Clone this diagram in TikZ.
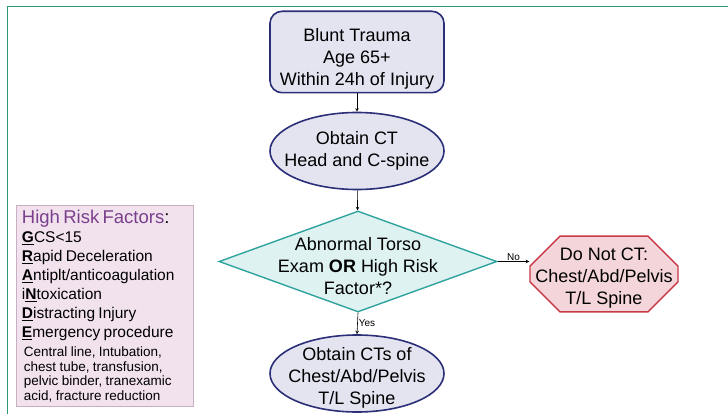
\documentclass[tikz,border=0pt]{standalone}
\usepackage{fontspec}
\setmainfont{Liberation Sans}
\usepackage{tikz}
\usetikzlibrary{shapes,arrows,positioning}

\definecolor{navyline}{HTML}{2B2F77}
\definecolor{lavfill}{HTML}{E4E4F1}
\definecolor{tealline}{HTML}{2FA39E}
\definecolor{tealfill}{HTML}{DDF2F1}
\definecolor{redline}{HTML}{C63A45}
\definecolor{pinkfill}{HTML}{F4D6DA}
\definecolor{mauveline}{HTML}{C9AFC4}
\definecolor{mauvefill}{HTML}{F1E2EE}
\definecolor{riskpurple}{HTML}{7A3F8C}
\definecolor{framegreen}{HTML}{2E9970}

\newcommand{\riskkey}[1]{\underline{\textbf{#1}}}
\newcommand{\dropline}[1]{\rule{0pt}{#1}}

\begin{document}
\begin{tikzpicture}[x=1pt,y=-1pt,
  mainfont/.style={font=\fontsize{18}{22}\selectfont, align=center},
  startbox/.style={mainfont, rectangle, rounded corners=12pt, draw=navyline, fill=lavfill, line width=1.6pt, minimum width=174pt, minimum height=77pt},
  ctoval/.style={mainfont, ellipse, draw=navyline, fill=lavfill, line width=1.6pt, minimum width=174pt, minimum height=77pt, inner xsep=-16pt, inner ysep=-8pt},
  decision/.style={mainfont, diamond, aspect=2.78, draw=tealline, fill=tealfill, line width=1.4pt, minimum width=278pt, minimum height=101pt, inner xsep=-22pt, inner ysep=-16pt},
  stopbox/.style={mainfont, chamfered rectangle, chamfered rectangle xsep=15pt, chamfered rectangle ysep=15pt, draw=redline, fill=pinkfill, line width=1.4pt, inner xsep=-9.5pt, inner ysep=-11.5pt},
  riskbox/.style={rectangle, draw=mauveline, fill=mauvefill, line width=0.9pt, minimum width=177pt, minimum height=201pt, text width=166pt, align=left, inner xsep=5.5pt},
  arrow/.style={->, >=stealth, line width=0.6pt},
  branch/.style={font=\fontsize{10}{12}\selectfont, inner sep=1pt}]
\useasboundingbox (0,0) rectangle (728,414);
% frame lines
\draw[framegreen, line width=1pt] (7,414) -- (7,7) -- (728,7);

% main column
\node[startbox] (trauma) at (357,52) {\dropline{27pt}Blunt Trauma\\Age 65+\\Within 24h of Injury};
\node[ctoval] (headct) at (357,151) {Obtain CT\\Head and C-spine};
\node[decision] (torso) at (358,261.5) {\dropline{23pt}Abnormal Torso\\Exam \textbf{OR} High Risk\\Factor*?};
\node[stopbox] (noct) at (604,274) {\dropline{21pt}Do Not CT:\\Chest/Abd/Pelvis\\T/L Spine};
\node[ctoval] (bodyct) at (357,373.5) {\dropline{21pt}Obtain CTs of\\Chest/Abd/Pelvis\\T/L Spine};

% risk factor list
\node[riskbox, anchor=north west] (risk) at (16,205) {%
  \fontsize{18.5}{19}\selectfont{\color{riskpurple}High Risk Factors}:\par
  \fontsize{15.5}{19}\selectfont
  \riskkey{G}CS<15\par
  \riskkey{R}apid Deceleration\par
  \riskkey{A}ntiplt/anticoagulation\par
  i\riskkey{N}toxication\par
  \riskkey{D}istracting Injury\par
  \riskkey{E}mergency procedure\par
  \fontsize{13.5}{19}\selectfont
  \hspace*{2pt}Central line, Intubation,\par
  \fontsize{13.5}{14.5}\selectfont
  \hspace*{2pt}chest tube, transfusion,\par
  \hspace*{2pt}pelvic binder, tranexamic\par
  \hspace*{2pt}acid, fracture reduction\par};

% connectors
\draw[arrow] (trauma) -- (headct);
\draw[arrow] (headct) -- (torso);
\draw[arrow] (torso.east) -- (torso.east -| noct.west) node[branch, midway, above] {No};
\draw[arrow] (torso.south) -- (bodyct.north) node[branch, midway, right] {Yes};
\end{tikzpicture}
\end{document}
